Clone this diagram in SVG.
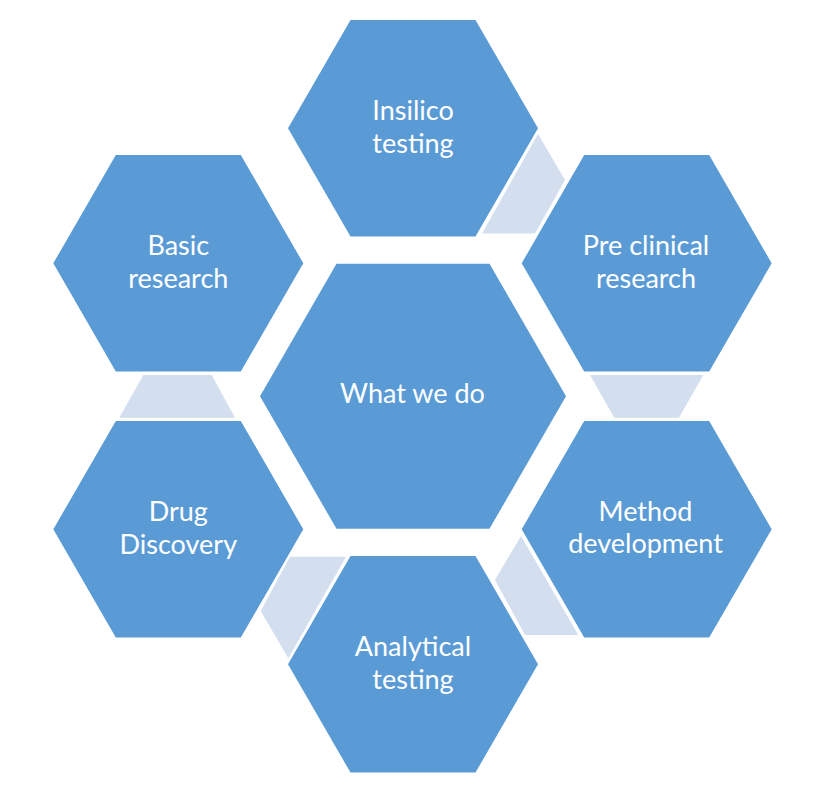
<svg xmlns="http://www.w3.org/2000/svg" xmlns:xlink="http://www.w3.org/1999/xlink" width="823" height="786" viewBox="0 0 823 786">
  <style>
    .hex { fill: #5B9BD5; }
    .conn { fill: #D3DEEF; }
    .lbl { fill: #FFFFFF; font-family: Lato, "Open Sans", "Liberation Sans", sans-serif; font-size: 27px; text-anchor: middle; }
  </style>
  <defs>
    <polygon id="hexS" points="-125,0 -62.5,-108.3 62.5,-108.3 125,0 62.5,108.3 -62.5,108.3"/>
  </defs>
  <rect width="823" height="786" fill="#FFFFFF"/>

  <g id="connectors">
    <polygon class="conn" points="538,134 565,180 535,233.5 482,233.5"/>
    <polygon class="conn" points="590,375 703.3,375 679,417.7 614.3,417.7"/>
    <polygon class="conn" points="521,536 578.3,635 525,635 495,580"/>
    <polygon class="conn" points="290,556.7 346,556.7 288.3,658.3 260.7,611"/>
    <polygon class="conn" points="143.3,375 211.7,375 235,417.7 119.3,417.7"/>
  </g>

  <g id="center">
    <polygon class="hex" points="260,396.3 336.5,263.8 489.5,263.8 566,396.3 489.5,528.8 336.5,528.8"/>
    <text class="lbl" x="412.5" y="403.3">What we do</text>
  </g>

  <g id="insilico">
    <use xlink:href="#hexS" class="hex" transform="translate(413,128.3)"/>
    <text class="lbl" x="413" y="120">Insilico</text>
    <text class="lbl" x="413" y="152.7">testing</text>
  </g>

  <g id="basic">
    <use xlink:href="#hexS" class="hex" transform="translate(178.3,263.3)"/>
    <text class="lbl" x="178.3" y="255">Basic</text>
    <text class="lbl" x="178.3" y="287.7">research</text>
  </g>

  <g id="preclinical">
    <use xlink:href="#hexS" class="hex" transform="translate(646.7,263.3)"/>
    <text class="lbl" x="646" y="255">Pre clinical</text>
    <text class="lbl" x="646" y="287.7">research</text>
  </g>

  <g id="drug">
    <use xlink:href="#hexS" class="hex" transform="translate(178.3,529.3)"/>
    <text class="lbl" x="178.3" y="521">Drug</text>
    <text class="lbl" x="178.3" y="553.7">Discovery</text>
  </g>

  <g id="method">
    <use xlink:href="#hexS" class="hex" transform="translate(646.7,529.3)"/>
    <text class="lbl" x="645.5" y="520.7">Method</text>
    <text class="lbl" x="645.5" y="553.3">development</text>
  </g>

  <g id="analytical">
    <use xlink:href="#hexS" class="hex" transform="translate(413,664.3)"/>
    <text class="lbl" x="413" y="656">Analytical</text>
    <text class="lbl" x="413" y="688.7">testing</text>
  </g>
</svg>
